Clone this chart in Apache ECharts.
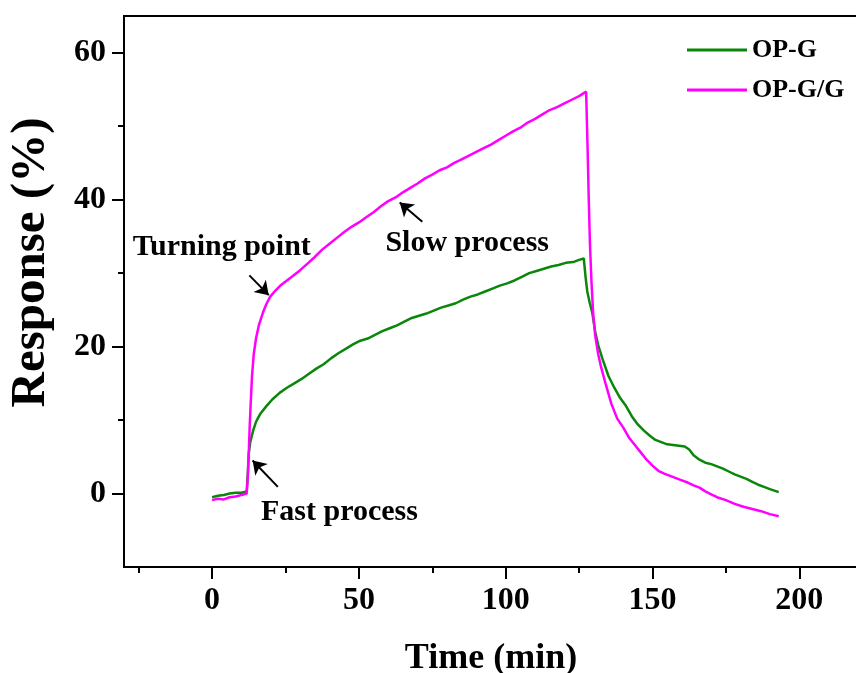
<!DOCTYPE html>
<html>
<head>
<meta charset="utf-8">
<script src="https://cdn.jsdelivr.net/npm/echarts@6.0.0/dist/echarts.min.js"></script>
<style>
  html, body { margin: 0; padding: 0; background: #fff; }
  #chart { width: 856px; height: 673px; }
</style>
</head>
<body>
<div id="chart"></div>
<script>
// --- data (time in min, response in %) ---
const opgTime = [0, 2, 4, 6, 8, 10, 11.8, 12.2, 12.5, 13.0, 14.0, 15.0, 16.5, 18.5, 20.5, 23, 25.5, 28, 30.5, 33, 35.5, 38,
  40.5, 43, 45.5, 48, 50.5, 53, 55.5, 58, 60.5, 63, 65.5, 68, 70.5, 73, 75.5, 78, 80.5, 83, 85.5, 88, 90.5, 93, 95.5, 98,
  100.5, 103, 105.5, 108, 110.5, 113, 115.5, 118, 120.5, 123, 125, 126.6, 127.2, 127.8, 128.6, 129.5, 130.5, 131.5, 133,
  135, 137, 139, 141, 143, 145, 147, 149, 151, 153, 155, 157, 159, 161, 162.5, 164, 166, 168, 170, 172, 174, 176, 178,
  180, 182, 184, 186, 188, 190, 193];
const opgResp = [-0.5, -0.3, -0.2, 0.0, 0.1, 0.1, 0.3, 3.0, 5.5, 7.0, 8.6, 9.8, 10.9, 11.9, 12.8, 13.7, 14.4, 15.0, 15.6, 16.3, 17.0, 17.6,
  18.4, 19.1, 19.7, 20.3, 20.8, 21.1, 21.6, 22.1, 22.5, 22.9, 23.4, 23.9, 24.2, 24.5, 24.9, 25.3, 25.6, 25.9, 26.4, 26.8, 27.1, 27.5, 27.9, 28.3,
  28.6, 29.0, 29.5, 30.0, 30.3, 30.6, 30.9, 31.1, 31.4, 31.5, 31.8, 32.0, 29.5, 27.5, 26.0, 24.6, 22.0, 20.2, 18.3,
  16.0, 14.4, 13.0, 11.9, 10.5, 9.4, 8.6, 7.9, 7.3, 7.0, 6.7, 6.6, 6.5, 6.4, 6.0, 5.2, 4.6, 4.2, 4.0, 3.7, 3.4, 3.0, 2.6,
  2.3, 2.0, 1.6, 1.2, 0.9, 0.6, 0.2];

const opggTime = [0, 2, 4, 6, 8, 10, 11.8, 12.2, 12.5, 12.8, 13.1, 13.6, 14.2, 15.0, 16.0, 17.3, 18.5, 19.8, 21.5, 23.5, 25.5, 27.5,
  30, 32.5, 35, 37.5, 40, 42.5, 45, 47.5, 50, 52.5, 55, 57.5, 60, 62.5, 65, 67.5, 70, 72.5, 75, 77.5, 80, 82.5, 85, 87.5,
  90, 92.5, 95, 97.5, 100, 102.5, 105, 107.5, 110, 112.5, 115, 117.5, 120, 122.5, 125, 127.4, 127.9, 128.3, 128.7, 129.2,
  129.8, 130.5, 131.5, 132.5, 134, 136, 138, 140, 142, 144, 146, 148, 150, 152, 154, 156, 158, 160, 162, 164, 166, 168,
  170, 172, 175, 178, 181, 184, 187, 190, 193];
const opggResp = [-0.9, -0.7, -0.8, -0.5, -0.4, -0.2, 0.0, 2.5, 5.5, 9.0, 11.8, 16.0, 19.0, 21.2, 23.0, 24.6, 25.8, 26.8, 27.6, 28.4, 29.0, 29.6,
  30.4, 31.3, 32.2, 33.2, 34.0, 34.8, 35.6, 36.3, 36.9, 37.6, 38.3, 39.1, 39.8, 40.3, 41.0, 41.6, 42.2, 42.9, 43.4, 44.0, 44.4, 45.0, 45.5, 46.0,
  46.5, 47.0, 47.5, 48.1, 48.7, 49.3, 49.8, 50.5, 51.0, 51.6, 52.2, 52.6, 53.1, 53.6, 54.1, 54.7, 47.0, 40.0, 34.0, 29.0,
  24.5, 21.5, 19.0, 17.2, 15.0, 12.2, 10.2, 9.0, 7.6, 6.6, 5.6, 4.6, 3.8, 3.1, 2.7, 2.4, 2.1, 1.8, 1.5, 1.1, 0.8, 0.3,
  -0.1, -0.5, -0.9, -1.4, -1.8, -2.1, -2.4, -2.8, -3.1];

const xMajorTicks = [0, 50, 100, 150, 200];
const xMinorTicks = [-25, 25, 75, 125, 175];
const yMajorTicks = [0, 20, 40, 60];
const yMinorTicks = [10, 30, 50];

// annotation texts and arrows, in data coordinates
const noteNames = ["Turning point", "Slow process", "Fast process"];
const notePos = [[3.3, 33.5], [86.9, 34.0], [43.4, -2.5]];
const arrowFrom = [[12.7, 29.7], [71.6, 37.0], [22.4, 0.9]];
const arrowTo = [[19.3, 27.0], [63.9, 39.6], [13.8, 4.5]];

const chart = echarts.init(document.getElementById("chart"));
const font = "'Liberation Serif', 'Times New Roman', serif";

const zip = (xs, ys) => xs.map((x, i) => [x, ys[i]]);

const option = {
  backgroundColor: "#fff",
  animation: false,
  grid: {
    left: 124, top: 16, right: -2, bottom: 106,
    outerBoundsMode: "none",
    show: true, borderColor: "#000", borderWidth: 2
  },
  legend: {
    orient: "vertical",
    left: 682, top: 32,
    itemWidth: 60, itemHeight: 3, itemGap: 14,
    icon: "rect",
    textStyle: { fontFamily: font, fontWeight: "bold", fontSize: 26, lineHeight: 26, color: "#000" },
    data: ["OP-G", "OP-G/G"]
  },
  xAxis: [{
    type: "value", min: -30, max: 220,
    name: "Time (min)", nameLocation: "middle", nameGap: 74,
    nameTextStyle: { fontFamily: font, fontWeight: "bold", fontSize: 36, color: "#000" },
    axisLine: { onZero: false, lineStyle: { color: "#000", width: 2 } },
    axisTick: { customValues: xMajorTicks, length: 12, lineStyle: { color: "#000", width: 2 } },
    axisLabel: { customValues: xMajorTicks, margin: 18, fontFamily: font, fontWeight: "bold", fontSize: 32, color: "#000" },
    splitLine: { show: false }
  }, {
    type: "value", min: -30, max: 220, position: "bottom",
    axisLine: { show: false, onZero: false },
    axisTick: { customValues: xMinorTicks, length: 6, lineStyle: { color: "#000", width: 2 } },
    axisLabel: { show: false },
    splitLine: { show: false }
  }],
  yAxis: [{
    type: "value", min: -10, max: 65,
    name: "Response (%)", nameLocation: "middle", nameGap: 68,
    nameTextStyle: { fontFamily: font, fontWeight: "bold", fontSize: 49, color: "#000", padding: [0, 0, 0, 58] },
    axisLine: { show: true, onZero: false, lineStyle: { color: "#000", width: 2 } },
    axisTick: { show: true, customValues: yMajorTicks, length: 12, lineStyle: { color: "#000", width: 2 } },
    axisLabel: { customValues: yMajorTicks, margin: 18, fontFamily: font, fontWeight: "bold", fontSize: 32, color: "#000" },
    splitLine: { show: false }
  }, {
    type: "value", min: -10, max: 65, position: "left",
    axisLine: { show: false, onZero: false },
    axisTick: { show: true, customValues: yMinorTicks, length: 6, lineStyle: { color: "#000", width: 2 } },
    axisLabel: { show: false },
    splitLine: { show: false }
  }],
  series: [{
    name: "OP-G", type: "line",
    data: zip(opgTime, opgResp),
    showSymbol: false, symbol: "none",
    color: "#0a870a",
    lineStyle: { color: "#0a870a", width: 2.5 }
  }, {
    name: "OP-G/G", type: "line",
    data: zip(opggTime, opggResp),
    showSymbol: false, symbol: "none",
    color: "#ff00ff",
    lineStyle: { color: "#ff00ff", width: 2.5 },
    markLine: {
      silent: true,
      symbol: ["none", "arrow"],
      symbolSize: 13,
      label: { show: false },
      lineStyle: { color: "#000", width: 2, type: "solid" },
      data: arrowFrom.map((p, i) => [{ coord: p }, { coord: arrowTo[i] }])
    },
    markPoint: {
      silent: true,
      symbol: "circle", symbolSize: 1,
      itemStyle: { color: "transparent" },
      label: {
        show: true, position: "inside", formatter: "{b}",
        fontFamily: font, fontWeight: "bold", fontSize: 30, color: "#000"
      },
      data: noteNames.map((n, i) => ({ name: n, coord: notePos[i] }))
    }
  }]
};

chart.setOption(option);
</script>
</body>
</html>
